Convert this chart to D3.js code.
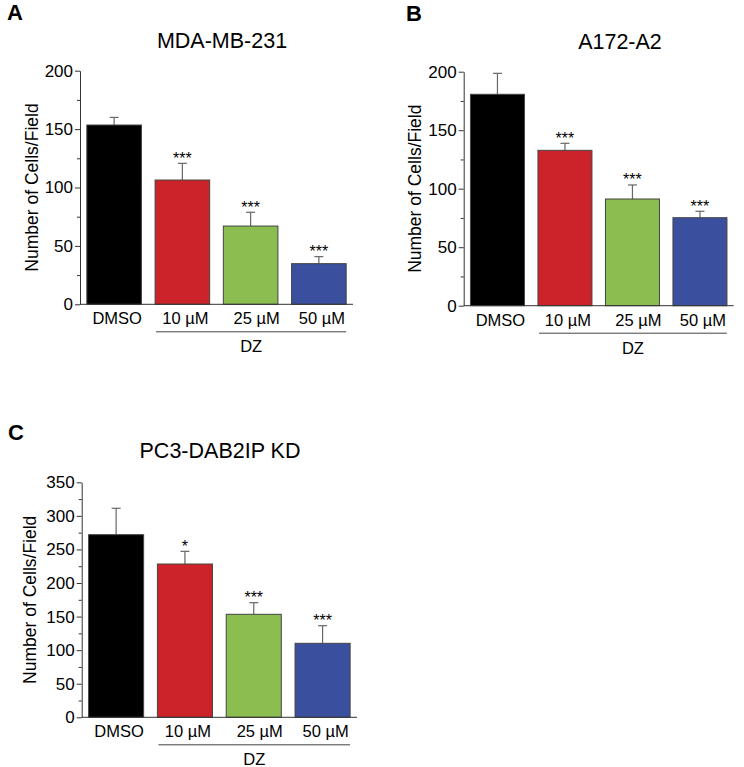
<!DOCTYPE html>
<html>
<head>
<meta charset="utf-8">
<script src="https://cdnjs.cloudflare.com/ajax/libs/d3/7.8.5/d3.min.js"></script>
<style>
  body { margin: 0; background: #fff; }
  text { font-family: "Liberation Sans", Arial, sans-serif; fill: #000; }
</style>
</head>
<body>
<div id="chart"></div>
<script>
// Data
var groups = ["DMSO", "10 \u00b5M", "25 \u00b5M", "50 \u00b5M"];
var barColors = ["#000000", "#cc2229", "#8bbd50", "#3b4f9f"];

var meansA = [153.5, 106.4, 67, 34.8];
var errorsA = [6.5, 14.3, 11.8, 6];
var starsA = ["", "***", "***", "***"];

var meansB = [180.7, 132.8, 91.2, 75.2];
var errorsB = [17.9, 6, 12, 5.5];
var starsB = ["", "***", "***", "***"];

var meansC = [272, 228.3, 153.4, 110.2];
var errorsC = [39.3, 18.9, 17.3, 26.2];
var starsC = ["", "*", "***", "***"];

var ticksAB = [0, 50, 100, 150, 200];
var ticksC = [0, 50, 100, 150, 200, 250, 300, 350];

// SVG area
var svgWidth = 744;
var svgHeight = 767;

var svg = d3.select("#chart")
  .append("svg")
    .attr("width", svgWidth)
    .attr("height", svgHeight);

// panel layout
var panels = [
  { letter: "A", title: "MDA-MB-231", means: meansA, errors: errorsA, stars: starsA,
    ticks: ticksAB, ymax: 200, x0: 80, x1: 353, y0: 304.3, y1: 70.7,
    letterX: 7, letterY: 20, titleX: 222, titleY: 48, yTitleX: 32 },
  { letter: "B", title: "A172-A2", means: meansB, errors: errorsB, stars: starsB,
    ticks: ticksAB, ymax: 200, x0: 463.7, x1: 733.7, y0: 305.7, y1: 71.7,
    letterX: 406, letterY: 21, titleX: 620, titleY: 49, yTitleX: 415 },
  { letter: "C", title: "PC3-DAB2IP KD", means: meansC, errors: errorsC, stars: starsC,
    ticks: ticksC, ymax: 350, x0: 81.7, x1: 357, y0: 717.3, y1: 482.3,
    letterX: 8, letterY: 440, titleX: 220, titleY: 458, yTitleX: 30 }
];

panels.forEach(function(p) {
  var g = svg.append("g");

  var x = d3.scaleBand()
    .domain(groups)
    .range([p.x0, p.x1])
    .paddingInner(0.2)
    .paddingOuter(0.1);

  var y = d3.scaleLinear()
    .domain([0, p.ymax])
    .range([p.y0, p.y1]);

  // panel letter and title
  g.append("text")
    .attr("x", p.letterX)
    .attr("y", p.letterY)
    .style("font-size", "22px")
    .style("font-weight", "bold")
    .text(p.letter);

  g.append("text")
    .attr("x", p.titleX)
    .attr("y", p.titleY)
    .attr("text-anchor", "middle")
    .style("font-size", "21.5px")
    .text(p.title);

  // error bars (upper only)
  var err = g.append("g").attr("stroke", "#666").attr("stroke-width", 1.2);
  groups.forEach(function(d, i) {
    var cx = x(d) + x.bandwidth() / 2;
    err.append("line")
      .attr("x1", cx).attr("x2", cx)
      .attr("y1", y(p.means[i])).attr("y2", y(p.means[i] + p.errors[i]));
    err.append("line")
      .attr("x1", cx - 4.5).attr("x2", cx + 4.5)
      .attr("y1", y(p.means[i] + p.errors[i])).attr("y2", y(p.means[i] + p.errors[i]));
  });

  // bars
  g.append("g")
    .selectAll("rect")
    .data(groups)
    .enter()
    .append("rect")
      .attr("x", function(d) { return x(d); })
      .attr("width", x.bandwidth())
      .attr("y", function(d, i) { return y(p.means[i]); })
      .attr("height", function(d, i) { return y(0) - y(p.means[i]); })
      .attr("fill", function(d, i) { return barColors[i]; })
      .attr("stroke", "#444")
      .attr("stroke-width", 1);

  // significance stars
  g.append("g")
    .selectAll("text")
    .data(groups)
    .enter()
    .append("text")
      .attr("x", function(d) { return x(d) + x.bandwidth() / 2; })
      .attr("y", function(d, i) { return y(p.means[i] + p.errors[i]) + 0.5; })
      .attr("text-anchor", "middle")
      .style("font-size", "16px")
      .text(function(d, i) { return p.stars[i]; });

  // y axis with minor ticks
  var minor = [];
  for (var v = 25; v < p.ymax; v += 50) minor.push(v);

  var yAxis = g.append("g")
    .attr("transform", "translate(" + p.x0 + ",0)")
    .call(d3.axisLeft(y).tickValues(p.ticks).tickSize(5).tickPadding(2).tickSizeOuter(0));
  yAxis.selectAll("text")
    .style("font-size", "17px")
    .style("font-family", "Liberation Sans, Arial, sans-serif");

  g.append("g")
    .attr("transform", "translate(" + p.x0 + ",0)")
    .call(d3.axisLeft(y).tickValues(minor).tickSize(3).tickFormat(""))
    .select(".domain").remove();

  g.selectAll(".domain, .tick line").attr("stroke", "#333");

  // x axis line
  g.append("line")
    .attr("x1", p.x0).attr("x2", p.x1)
    .attr("y1", y(0)).attr("y2", y(0))
    .attr("stroke", "#333").attr("stroke-width", 1);

  // category labels
  g.append("g")
    .selectAll("text")
    .data(groups)
    .enter()
    .append("text")
      .attr("x", function(d, i) { return x(d) + x.bandwidth() / 2 + (i === 2 ? 6 : 3); })
      .attr("y", y(0) + 20)
      .attr("text-anchor", "middle")
      .style("font-size", "16.5px")
      .text(function(d) { return d; });

  // DZ bracket
  var lx1 = x(groups[1]) + 1;
  var lx2 = x(groups[3]) + x.bandwidth();
  g.append("line")
    .attr("x1", lx1).attr("x2", lx2)
    .attr("y1", y(0) + 27.5).attr("y2", y(0) + 27.5)
    .attr("stroke", "#444").attr("stroke-width", 1);
  g.append("text")
    .attr("x", (lx1 + lx2) / 2)
    .attr("y", y(0) + 48)
    .attr("text-anchor", "middle")
    .style("font-size", "16.5px")
    .text("DZ");

  // y axis title
  g.append("text")
    .attr("transform", "translate(" + p.yTitleX + "," + ((p.y0 + p.y1) / 2) + ") rotate(-90)")
    .attr("text-anchor", "middle")
    .attr("dy", "0.35em")
    .style("font-size", "17.5px")
    .text("Number of Cells/Field");
});
</script>
</body>
</html>
